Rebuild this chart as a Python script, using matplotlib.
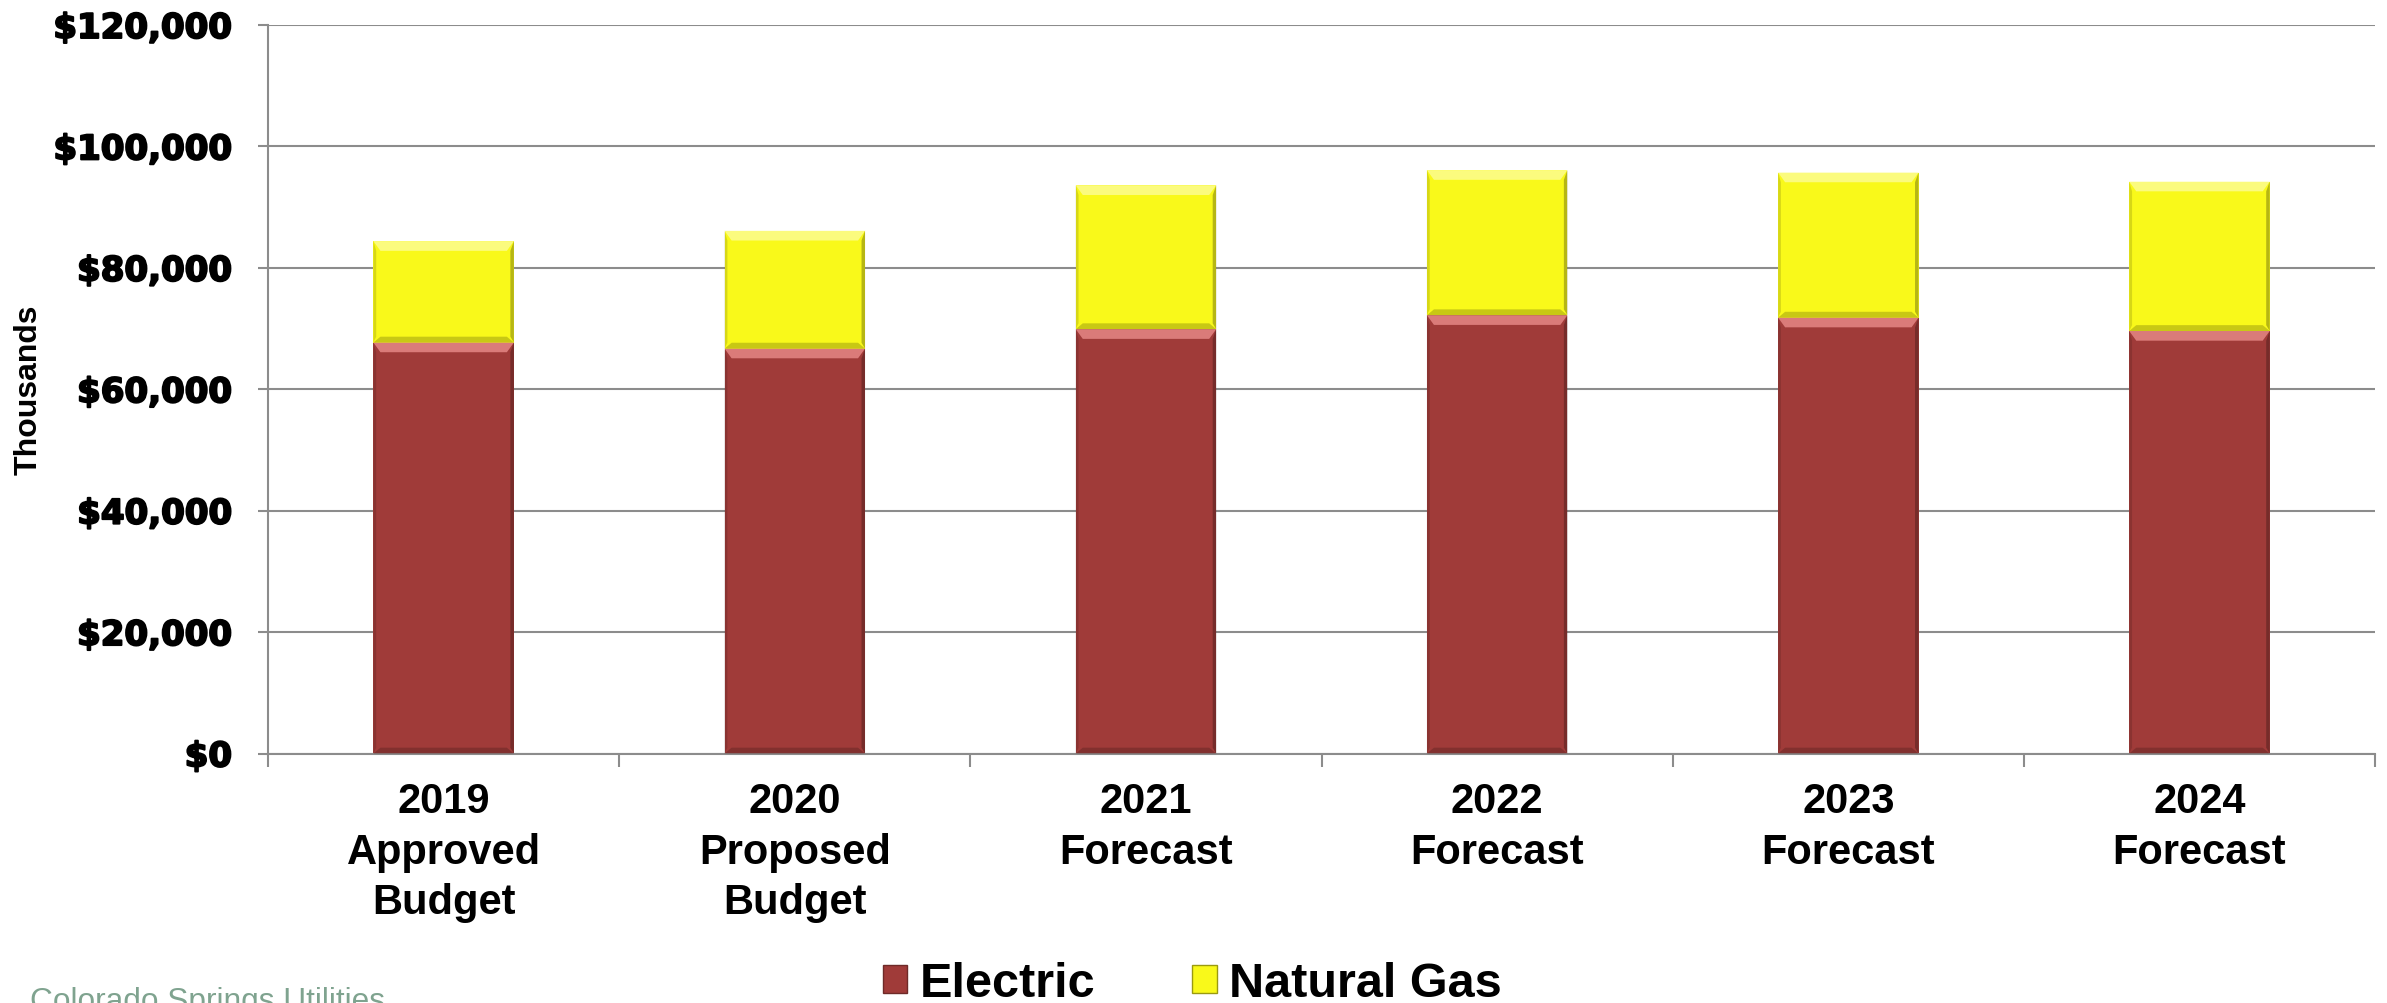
import numpy as np
import matplotlib.pyplot as plt
import matplotlib.patheffects as pe
from matplotlib.patches import Polygon, Rectangle
from matplotlib.ticker import FuncFormatter, MultipleLocator

# receitas por ano (milhares de US$)
anos = ["2019\nApproved\nBudget", "2020\nProposed\nBudget", "2021\nForecast",
        "2022\nForecast", "2023\nForecast", "2024\nForecast"]
eletrica = [67700, 66700, 69900, 72200, 71800, 69600]
gas = [16700, 19400, 23700, 23900, 23900, 24600]

cor_elet = "#A03B39"
cor_gas = "#F9F91A"
cinza = "#8C8C8C"


def chanfro(ax, barras, claro, escuro, lateral, dx=0.02, dy=1600):
    # efeito de relevo nas bordas de cada barra
    for r in barras:
        x0, y0 = r.get_x(), r.get_y()
        x1, y1 = x0 + r.get_width(), y0 + r.get_height()
        topo = [(x0, y1), (x1, y1), (x1 - dx, y1 - dy), (x0 + dx, y1 - dy)]
        base = [(x0, y0), (x1, y0), (x1 - dx, y0 + dy * 0.6), (x0 + dx, y0 + dy * 0.6)]
        dir_ = [(x1, y0), (x1, y1), (x1 - dx * 0.5, y1 - dy), (x1 - dx * 0.5, y0 + dy * 0.6)]
        esq = [(x0, y0), (x0, y1), (x0 + dx * 0.4, y1 - dy), (x0 + dx * 0.4, y0 + dy * 0.6)]
        ax.add_patch(Polygon(topo, closed=True, fc=claro, ec="none", zorder=3, alpha=0.85))
        ax.add_patch(Polygon(base, closed=True, fc=escuro, ec="none", zorder=3, alpha=0.6))
        ax.add_patch(Polygon(dir_, closed=True, fc=lateral, ec="none", zorder=3, alpha=0.6))
        ax.add_patch(Polygon(esq, closed=True, fc=lateral, ec="none", zorder=3, alpha=0.3))


fig = plt.figure(figsize=(23.87, 10.04), dpi=100)
ax = fig.add_axes([0.1123, 0.2485, 0.8827, 0.7256])

x = np.arange(len(anos))
b1 = ax.bar(x, eletrica, width=0.4, color=cor_elet, zorder=2, label="Electric")
b2 = ax.bar(x, gas, width=0.4, bottom=eletrica, color=cor_gas, zorder=2, label="Natural Gas")
chanfro(ax, b1, "#E58785", "#6E2A28", "#5A2220")
chanfro(ax, b2, "#FCFC90", "#A8A810", "#8A8A10")

ax.set_xlim(-0.5, len(anos) - 0.5)
ax.set_ylim(0, 120000)
ax.yaxis.set_major_locator(MultipleLocator(20000))
ax.yaxis.set_major_formatter(FuncFormatter(lambda v, p: "${:,.0f}".format(v)))
ax.grid(axis="y", color=cinza, linewidth=1.5, zorder=0)
ax.set_axisbelow(True)

for s in ["top", "right"]:
    ax.spines[s].set_visible(False)
for s in ["left", "bottom"]:
    ax.spines[s].set_color(cinza)
    ax.spines[s].set_linewidth(1.5)

# ticks nas divisas das categorias
ax.set_xticks(np.arange(-0.5, len(anos)), minor=False)
ax.set_xticklabels([])
ax.set_xticks(x, minor=True)
ax.set_xticklabels(anos, minor=True, fontsize=30, fontweight="bold",
                   family="Liberation Sans", linespacing=1.34)
ax.tick_params(axis="x", which="major", length=9, width=1.5, color=cinza)
ax.tick_params(axis="x", which="minor", length=0, pad=20)
ax.tick_params(axis="y", length=7, width=1.5, color=cinza, pad=19)
for t in ax.get_yticklabels():
    t.set_fontsize(24.5)
    t.set_fontweight("bold")
    t.set_family("DejaVu Sans")
    t.set_path_effects([pe.withStroke(linewidth=1.4, foreground="black")])

fig.text(0.012, 0.612, "Thousands", rotation=90, ha="center", va="center",
         fontsize=23, fontweight="bold", family="Liberation Sans")

h1 = Rectangle((0, 0), 1, 1, fc=cor_elet, ec="#6E2A28", lw=1)
h2 = Rectangle((0, 0), 1, 1, fc=cor_gas, ec="#9A9A10", lw=1)
fig.legend([h1, h2], ["Electric", "Natural Gas"], loc="center",
           bbox_to_anchor=(0.4995, 0.019), ncol=2, frameon=False,
           prop={"family": "Liberation Sans", "weight": "bold", "size": 35},
           handlelength=0.5, handleheight=0.5, handletextpad=0.25,
           columnspacing=2.0, borderpad=0)

fig.text(0.0126, -0.006, "Colorado Springs Utilities", ha="left", va="baseline",
         fontsize=22.8, color="#7FA38F", family="Liberation Sans")
fig.text(0.9992, 0.004, "1", ha="left", va="baseline",
         fontsize=14, color="#7FA38F", family="Liberation Sans")

fig.savefig("out.png", dpi=100)
